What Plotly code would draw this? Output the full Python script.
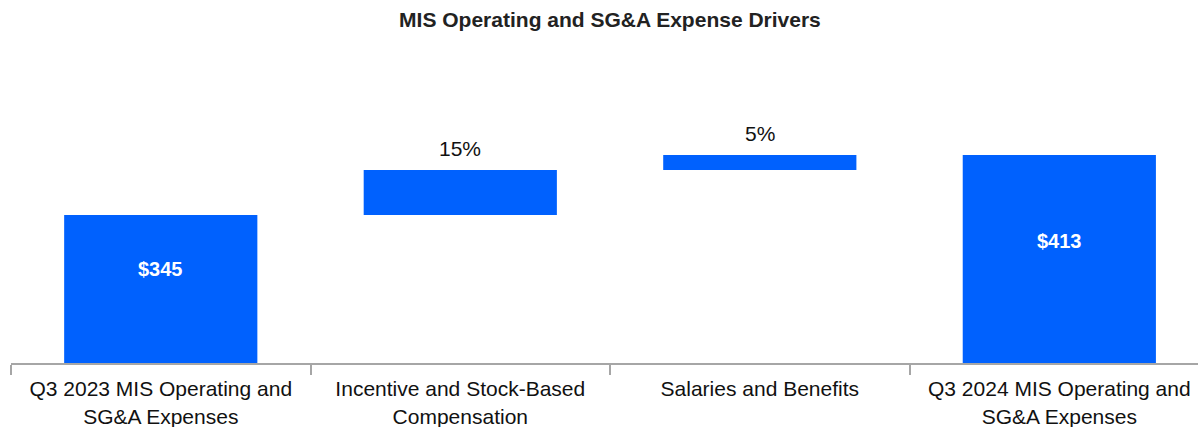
import plotly.graph_objects as go

# Waterfall data ($ millions)
categories = [
    "Q3 2023 MIS Operating and<br>SG&A Expenses",
    "Incentive and Stock-Based<br>Compensation",
    "Salaries and Benefits",
    "Q3 2024 MIS Operating and<br>SG&A Expenses",
]
measures = ["absolute", "relative", "relative", "total"]
values = [345, 51, 17, 413]
bar_labels = ["$345", "15%", "5%", "$413"]

BLUE = "#0061FE"
FONT = "Liberation Sans, Arial"

fig = go.Figure(
    go.Waterfall(
        x=categories,
        y=values[:3] + [0],
        measure=measures,
        width=0.645,
        increasing=dict(marker=dict(color=BLUE)),
        decreasing=dict(marker=dict(color=BLUE)),
        totals=dict(marker=dict(color=BLUE)),
        connector=dict(visible=False),
        textinfo="none",
        hoverinfo="skip",
    )
)

# running tops of each bar
tops = []
running = 0
for m, v in zip(measures, values):
    if m == "absolute":
        running = v
    elif m == "relative":
        running += v
    tops.append(running)

# labels inside the start/end bars, above the change bars
for i, (cat, m, lab) in enumerate(zip(categories, measures, bar_labels)):
    if m == "relative":
        fig.add_annotation(
            x=cat, y=tops[i], text=lab, showarrow=False,
            yanchor="bottom", yshift=8,
            font=dict(family=FONT, size=21, color="#111111"),
        )
    else:
        fig.add_annotation(
            x=cat, y=tops[i], text=f"<b>{lab}</b>", showarrow=False,
            yanchor="middle", yshift=-(54 if i == 0 else 86),
            font=dict(family=FONT, size=20, color="white"),
        )

fig.update_layout(
    width=1198,
    height=427,
    margin=dict(l=11, r=0, t=60, b=64),
    paper_bgcolor="white",
    plot_bgcolor="white",
    showlegend=False,
    title=dict(
        text="<b>MIS Operating and SG&A Expense Drivers</b>",
        x=0.5046, xref="paper", xanchor="center",
        y=0.953, yref="container", yanchor="middle",
        font=dict(family=FONT, size=21, color="#222222"),
    ),
    font=dict(family=FONT, color="#111111"),
    xaxis=dict(
        range=[-0.5, 3.463],
        showline=True, linecolor="#a6a6a6", linewidth=2,
        ticks="outside", tickson="boundaries", ticklen=10,
        tickcolor="#a6a6a6", tickwidth=1.5,
        tickfont=dict(size=21, color="#111111"),
        ticklabelstandoff=6,
        showgrid=False, zeroline=False,
    ),
    yaxis=dict(
        range=[177.3, 520.8],
        visible=False, showgrid=False, zeroline=False,
    ),
)

fig.write_html("out.html")
